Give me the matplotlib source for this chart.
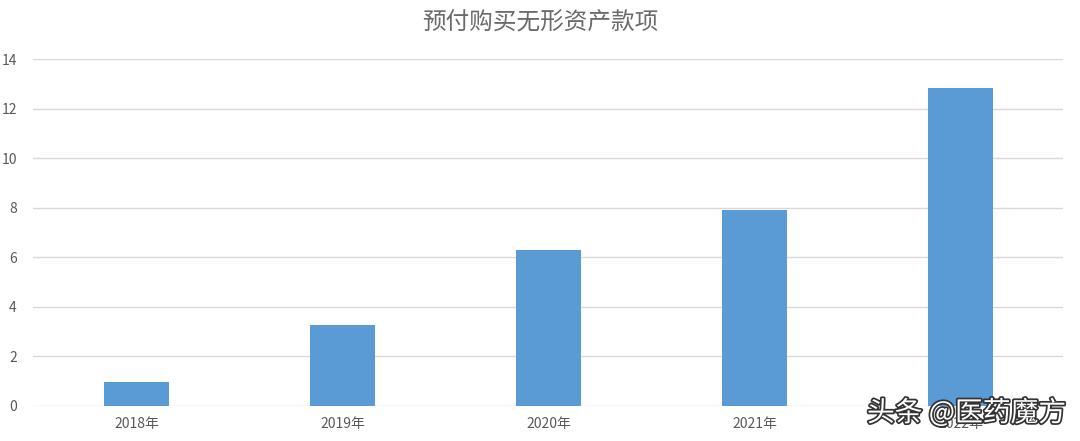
import matplotlib
matplotlib.use("Agg")
import matplotlib.pyplot as plt
import matplotlib.patheffects as pe

plt.rcParams['font.family'] = ['Noto Sans CJK SC', 'DejaVu Sans']

# 数据
years = ['2018年', '2019年', '2020年', '2021年', '2022年']
values = [0.96, 3.25, 6.28, 7.89, 12.82]
y_ticks = [0, 2, 4, 6, 8, 10, 12, 14]

fig = plt.figure(figsize=(10.8, 4.41), dpi=100)
ax = fig.add_axes([0.031, 0.080, 0.9537, 0.7858])

ax.bar(range(len(years)), values, width=0.316, color='#5b9bd5', zorder=3)

ax.set_xlim(-0.5, len(years) - 0.5)
ax.set_ylim(0, 14)
ax.set_yticks(y_ticks)
ax.set_xticks(range(len(years)))
ax.set_xticklabels(years)
ax.tick_params(axis='both', length=0, labelsize=10, labelcolor='#595959')
ax.tick_params(axis='x', pad=8)
ax.tick_params(axis='y', pad=12)

ax.grid(axis='y', color='#d9d9d9', linewidth=1, zorder=0)
for s in ax.spines.values():
    s.set_visible(False)

fig.text(0.5, 0.947, '预付购买无形资产款项', ha='center', va='center',
         fontsize=17, color='#6a6a6a')

# 水印
fig.text(0.987, 0.063, '头条 @医药魔方', ha='right', va='center',
         fontsize=20, color='white',
         path_effects=[pe.withStroke(linewidth=2.5, foreground='#333333')])

fig.savefig('out.png', dpi=100)
